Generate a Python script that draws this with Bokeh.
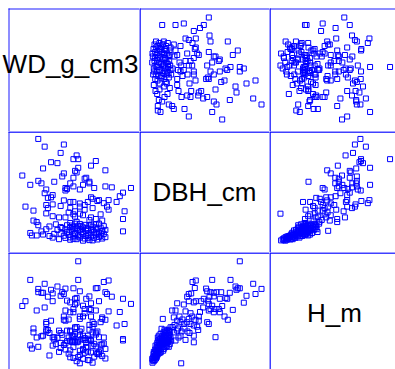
from bokeh.plotting import figure
from bokeh.layouts import gridplot
from bokeh.models import Range1d, ColumnDataSource
from bokeh.embed import file_html
from bokeh.resources import INLINE
from bokeh.core.properties import value

# ---- data ----
variables = ["WD_g_cm3", "DBH_cm", "H_m"]

WD_g_cm3 = [
    0.66, 0.72, 0.58, 0.75, 0.62, 0.51, 0.78, 0.69, 0.55, 0.64, 0.47, 0.80, 0.71, 0.60, 0.45, 0.68,
    0.77, 0.34, 0.63, 0.57, 0.74, 0.41, 0.66, 0.79, 0.52, 0.70, 0.33, 0.61, 0.76, 0.56, 0.65, 0.73,
    0.91, 0.40, 0.68, 0.78, 0.59, 0.72, 0.50, 0.80, 0.64, 0.55, 0.75, 0.69, 0.62, 0.53, 0.77, 0.66,
    0.58, 0.60, 0.72, 0.45, 0.79, 0.63, 0.70, 0.56, 0.67, 0.74, 0.49, 0.76, 0.61, 0.58,
    0.70, 0.60, 0.67, 0.73, 0.58, 0.76, 0.63, 0.54, 0.69, 0.61, 0.75, 0.66, 0.57, 0.78, 0.64, 0.71,
    0.60, 0.68, 0.74, 0.52, 0.65, 0.59, 0.71, 0.64, 0.48, 0.37, 0.43, 0.38,
    0.37, 0.62, 0.78, 0.35, 0.70, 0.74, 0.91, 0.71, 0.55, 0.51, 0.61, 0.47, 0.66, 0.77, 0.60, 0.64,
    0.43, 0.57, 0.61, 0.92, 0.35, 0.82, 0.67, 0.44, 0.72, 0.58, 0.81, 0.30, 0.64, 0.52, 0.67, 0.43,
    0.47, 0.64, 0.79, 0.58, 0.87, 0.69, 0.60, 0.75, 0.54, 0.82, 0.76, 0.72, 0.44, 0.71, 0.46,
    0.89, 0.47, 0.42, 0.91, 0.55, 0.64, 0.43, 0.56, 0.96, 0.55, 0.73, 0.84, 0.80, 0.60, 0.33, 0.66,
    0.40, 0.70, 0.58, 0.70, 0.48, 0.38, 0.67, 0.68, 0.60, 0.53, 0.28, 0.54, 0.62, 0.61, 0.80, 0.41,
    0.63, 0.71, 0.50, 0.46, 0.74, 0.60, 0.63, 0.62, 0.52, 0.42, 0.54, 0.38,
]

DBH_cm = [
    12.7, 13.0, 13.7, 14.0, 14.3, 14.3, 15.0, 15.3, 15.7, 16.0, 16.0, 16.5, 17.0, 17.3, 17.7, 17.7,
    18.0, 18.3, 18.7, 19.0, 19.3, 19.3, 19.7, 20.0, 20.3, 20.7, 21.0, 21.0, 21.3, 21.7, 22.0, 22.3,
    22.7, 22.7, 23.0, 23.3, 23.7, 24.0, 24.3, 24.3, 24.7, 25.0, 25.3, 25.7, 26.0, 26.3, 26.7, 27.0,
    27.3, 27.7, 27.7, 28.0, 28.3, 28.7, 29.0, 29.3, 29.7, 30.0, 30.3, 31.0, 31.0, 31.7,
    13.3, 14.7, 15.0, 15.7, 16.3, 16.7, 17.3, 18.0, 18.7, 19.7, 20.3, 21.7, 22.3, 23.0, 23.7, 24.7,
    25.3, 26.0, 26.7, 27.3, 28.3, 29.0, 30.0, 30.7, 20.0, 18.3, 25.0, 29.3,
    32.7, 33.0, 34.3, 34.3, 35.0, 36.0, 36.0, 37.7, 37.7, 37.7, 38.5, 39.0, 40.0, 41.0, 41.0, 41.7,
    42.0, 43.0, 44.3, 44.3, 45.0, 46.0, 46.0, 47.7, 47.7, 48.0, 49.3, 49.3, 49.3, 50.0, 51.0, 51.0,
    51.7, 52.7, 53.0, 54.3, 54.3, 54.3, 54.3, 55.3, 56.0, 56.3, 56.3, 57.7, 58.7, 59.3, 59.3,
    60.5, 61.7, 63.7, 64.3, 66.6, 67.7, 67.7, 68.3, 69.3, 69.3, 69.3, 70.0, 71.0, 71.0, 72.7, 72.7,
    74.3, 74.3, 74.3, 76.0, 76.0, 77.0, 79.3, 80.3, 80.3, 81.7, 82.7, 85.0, 86.0, 87.7, 88.3, 90.3,
    91.0, 93.3, 96.0, 97.0, 98.3, 100.3, 100.3, 104.3, 107.0, 113.7, 116.0, 122.0,
]

H_m = [
    4.9, 3.6, 5.4, 6.5, 4.1, 7.2, 5.8, 4.5, 8.0, 6.2, 9.3, 5.0, 7.0, 8.8, 6.0, 10.2,
    7.6, 8.3, 11.0, 6.6, 9.0, 12.6, 7.8, 10.0, 8.5, 11.6, 9.4, 13.2, 7.1, 10.8, 14.9, 9.9,
    11.5, 12.4, 8.9, 18.2, 10.5, 13.7, 11.9, 8.2, 12.8, 10.1, 14.0, 11.2, 10.4, 12.9, 9.6, 12.6,
    14.3, 11.0, 9.2, 13.5, 12.0, 10.6, 14.6, 14.3, 11.8, 13.0, 9.8, 12.1, 15.4, 10.9,
    4.4, 5.2, 6.9, 5.6, 7.7, 6.4, 5.5, 9.5, 7.3, 10.6, 6.9, 8.2, 12.0, 9.7, 7.6, 10.9,
    12.3, 8.8, 13.6, 10.2, 11.4, 12.7, 11.2, 14.0, 11.3, 12.0, 14.6, 8.9,
    21.0, 15.5, 18.7, 13.7, 16.2, 21.0, 11.0, 23.4, 17.6, 14.3, 15.0, 12.0, 19.0, 17.1, 12.6, 3.4,
    14.0, 18.0, 23.0, 16.5, 15.0, 20.7, 11.2, 25.6, 17.1, 14.0, 26.5, 24.1, 18.2, 13.5, 20.1, 16.5,
    26.7, 19.0, 30.5, 23.7, 16.0, 12.6, 10.4, 28.5, 17.9, 31.0, 24.1, 15.6, 14.5, 19.0, 17.6,
    20.5, 24.1, 22.0, 24.9, 28.3, 27.4, 17.1, 24.3, 23.2, 21.0, 16.5, 25.6, 27.1, 21.5, 31.2, 22.6,
    26.9, 25.7, 20.4, 21.5, 12.1, 27.1, 21.5, 24.9, 20.4, 27.1, 22.5, 19.0, 25.2, 24.9, 17.9, 26.9,
    31.2, 21.2, 29.0, 27.9, 28.4, 28.4, 37.4, 23.6, 25.9, 29.9, 26.5, 28.2,
]

# axis limits of each variable (spanning one full cell)
limits = {"WD_g_cm3": (0.2, 1.0133), "DBH_cm": (0.0, 130.0), "H_m": (0.0, 40.33)}

# ---- layout (page pixels) ----
FIG_X = [(0, 139), (139, 269), (269, 395)]      # visible extent of each column
FIG_Y = [(0, 131), (131, 252), (252, 369)]      # visible extent of each row
CELL_X = [(9, 139), (139, 269), (269, 399)]     # full cell extent of each column
CELL_Y = [(9, 131), (131, 252), (252, 373)]     # full cell extent of each row
LINE_X = [8, 139, 269]                          # left border line of each column
LINE_Y = [8, 131, 252]                          # top border line of each row
LINE_ALPHA_X = [0.6, 1.0, 1.0]
LINE_ALPHA_Y = [0.6, 1.0, 1.0]
LINE_W = 1.5
LABEL_OFFSETS = {"WD_g_cm3": (-4, -7), "DBH_cm": (0, 0), "H_m": (0, 0)}
BLUE = "#0000FF"

source = ColumnDataSource(data={"WD_g_cm3": WD_g_cm3, "DBH_cm": DBH_cm, "H_m": H_m})

rows = []
for i, yv in enumerate(variables):
    row = []
    for j, xv in enumerate(variables):
        fx0, fx1 = FIG_X[j]
        fy0, fy1 = FIG_Y[i]
        cx0, cx1 = CELL_X[j]
        cy0, cy1 = CELL_Y[i]
        w, h = fx1 - fx0, fy1 - fy0
        xlo, xhi = limits[xv]
        ylo, yhi = limits[yv]
        kx = (xhi - xlo) / (cx1 - cx0)
        ky = (yhi - ylo) / (cy1 - cy0)
        xr = Range1d(xlo - (cx0 - fx0) * kx, xhi + (fx1 - cx1) * kx)
        yr = Range1d(ylo - (fy1 - cy1) * ky, yhi + (cy0 - fy0) * ky)

        def dx(sx, xr=xr, w=w):
            return xr.start + sx * (xr.end - xr.start) / w

        def dy(sy, yr=yr, h=h):
            return yr.end - sy * (yr.end - yr.start) / h

        p = figure(width=w, height=h, x_range=xr, y_range=yr,
                   x_axis_location=None, y_axis_location=None,
                   toolbar_location=None, output_backend="svg",
                   min_border=0, background_fill_color="white",
                   border_fill_color="white", outline_line_color=None)
        p.xgrid.grid_line_color = None
        p.ygrid.grid_line_color = None

        # panel borders (left and top of each cell)
        sxl = LINE_X[j] - fx0
        syt = LINE_Y[i] - fy0
        x_start = LINE_X[0] - fx0 if j == 0 else 0
        y_start = LINE_Y[0] - fy0 if i == 0 else 0
        p.segment(x0=[dx(sxl + 0.5)], y0=[dy(y_start)], x1=[dx(sxl + 0.5)], y1=[dy(h)],
                  line_color=BLUE, line_width=LINE_W, line_alpha=LINE_ALPHA_X[j])
        p.segment(x0=[dx(x_start)], y0=[dy(syt + 0.5)], x1=[dx(w)], y1=[dy(syt + 0.5)],
                  line_color=BLUE, line_width=LINE_W, line_alpha=LINE_ALPHA_Y[i])

        if i == j:
            ox, oy = LABEL_OFFSETS[xv]
            p.text(x=[(xlo + xhi) / 2], y=[(ylo + yhi) / 2], text=[xv],
                   text_font=value("Liberation Sans"), text_font_size="26px",
                   text_color="black", text_align="center", text_baseline="middle",
                   x_offset=ox, y_offset=oy)
        else:
            p.scatter(x=xv, y=yv, source=source, marker="square", size=5,
                      fill_color=None, line_color=BLUE, line_width=1)
        row.append(p)
    rows.append(row)

grid = gridplot(rows, toolbar_location=None)

open("out.html", "w").write(file_html(grid, INLINE))
